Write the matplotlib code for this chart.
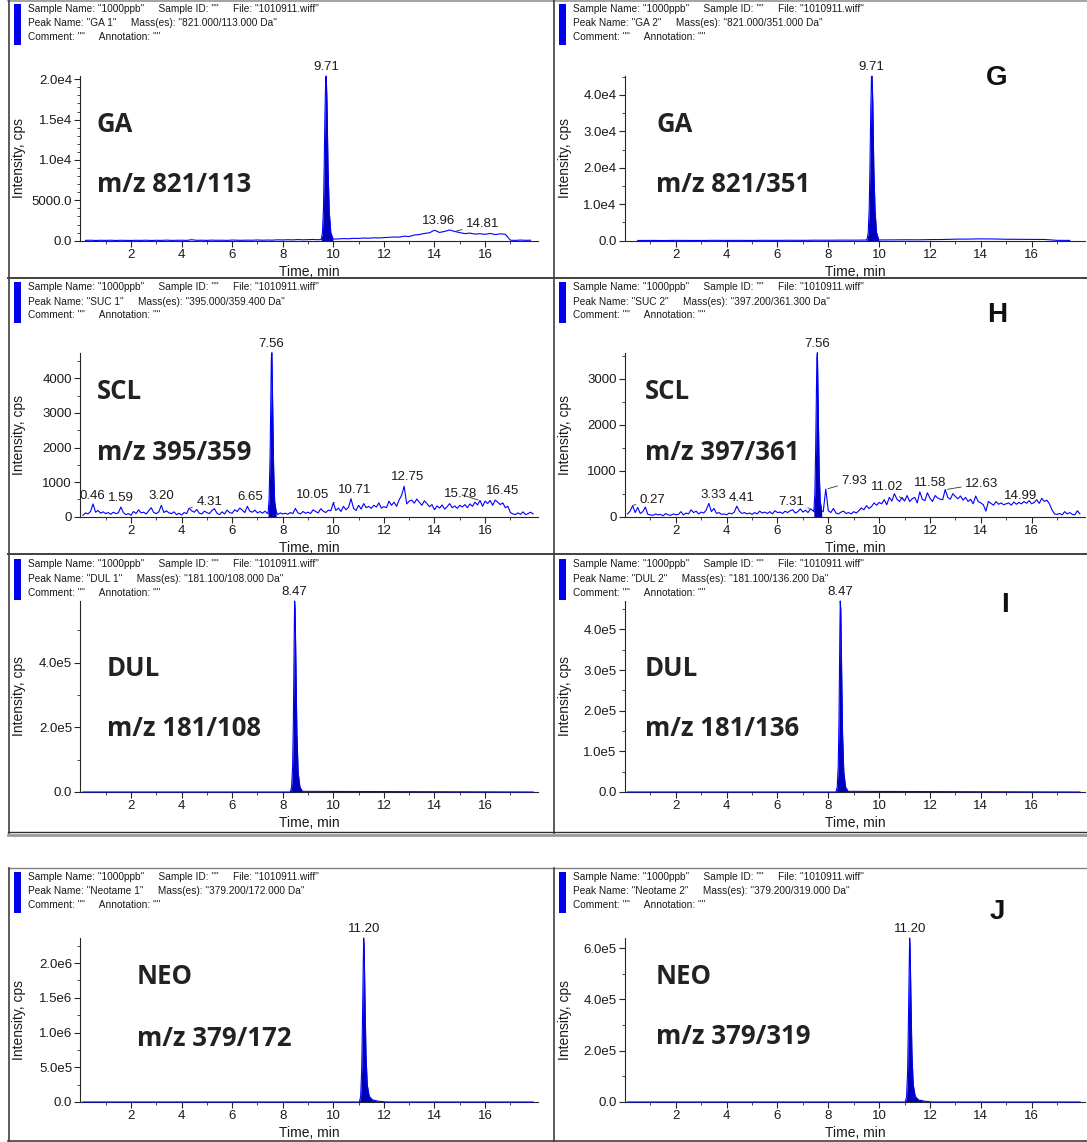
import numpy as np
import matplotlib
matplotlib.use("Agg")
import matplotlib.pyplot as plt
from matplotlib.lines import Line2D
from matplotlib.patches import Rectangle
from matplotlib.ticker import FixedLocator, AutoMinorLocator

plt.rcParams['font.family'] = ['Liberation Sans', 'DejaVu Sans']

# ---------------- data ----------------
PEAK_NAMES = ["GA 1", "GA 2", "SUC 1", "SUC 2", "DUL 1", "DUL 2", "Neotame 1", "Neotame 2"]
MASSES = ["821.000/113.000", "821.000/351.000", "395.000/359.400", "397.200/361.300",
          "181.100/108.000", "181.100/136.200", "379.200/172.000", "379.200/319.000"]
COMPOUNDS = ["GA", "GA", "SCL", "SCL", "DUL", "DUL", "NEO", "NEO"]
TRANSITIONS = ["m/z 821/113", "m/z 821/351", "m/z 395/359", "m/z 397/361",
               "m/z 181/108", "m/z 181/136", "m/z 379/172", "m/z 379/319"]
LETTERS = ["G", "H", "I", "J"]

X_TICKS = [2, 4, 6, 8, 10, 12, 14, 16]
X_MINOR = [1, 3, 5, 7, 9, 11, 13, 15, 17]

# baseline sampling grids (min)
GRID_01 = np.round(np.arange(0.1, 17.95, 0.1), 2)
GRID_02 = np.round(np.arange(0.2, 17.85, 0.2), 2)
GRID_05 = np.round(np.arange(0.5, 17.55, 0.5), 2)
FLAT_T = [0.1, 17.9]
FLAT_V = [0, 0]

ga1_base = [40, 60, 30, 50, 40, 60, 30, 50, 40, 30,
            50, 40, 60, 30, 50, 40, 70, 40, 50, 60,
            40, 120, 50, 60, 40, 70, 50, 60, 40, 80,
            60, 50, 70, 60, 90, 60, 80, 70, 110, 90,
            120, 100, 140, 110, 130, 150, 120, 150, 180, 200,
            220, 260, 240, 300, 280, 330, 310, 360, 340, 380,
            420, 460, 440, 560, 520, 700, 760, 900, 980, 1300,
            1020, 1150, 1320, 1150, 1000, 880, 940, 820, 860, 790,
            900, 760, 850, 800, 60, 40, 80, 50, 60]
ga_pk_t = [9.52, 9.57, 9.61, 9.64, 9.67, 9.70, 9.72, 9.75, 9.79, 9.84, 9.90, 9.98]
ga1_pk_v = [150, 1000, 4000, 9500, 16000, 20200, 20400, 17000, 9000, 3500, 1000, 300]

ga2_base = [60, 80, 50, 90, 70, 60, 100, 80, 90, 70, 110, 90, 120, 100, 140, 130,
            160, 150, 180, 200, 220, 250, 240, 300, 330, 420, 450, 500, 470, 400,
            380, 350, 340, 100, 80]
ga2_pk_v = [100, 2200, 9000, 21000, 36000, 45000, 45200, 38000, 20000, 8000, 2200, 300]

scl1_base = [40, 110, 80, 150, 370, 130, 180, 100, 140, 90,
             120, 70, 130, 90, 110, 280, 120, 60, 90, 40,
             150, 90, 200, 110, 130, 80, 170, 260, 120, 90,
             140, 330, 120, 170, 110, 90, 140, 60, 100, 50,
             120, 90, 250, 170, 130, 210, 100, 80, 160, 120,
             90, 180, 230, 100, 60, 140, 80, 190, 120, 100,
             200, 150, 250, 190, 120, 300, 160, 130, 190, 110,
             150, 100, 160, 90, 120, 100, 90, 60, 110, 80,
             100, 70, 120, 90, 240, 110, 80, 150, 100, 130,
             90, 200, 150, 110, 230, 160, 120, 190, 170, 400,
             180, 250, 150, 300, 200, 270, 520, 240, 180, 330,
             220, 380, 260, 300, 240, 330, 280, 400, 250, 290,
             260, 450, 330, 420, 300, 480, 620, 880, 370, 450,
             480, 390, 510, 420, 330, 460, 380, 290, 350, 200,
             310, 250, 340, 220, 290, 380, 260, 310, 240, 330,
             280, 350, 260, 370, 300, 420, 340, 470, 300, 450,
             380, 470, 330, 480, 420, 350, 400, 260, 300, 120,
             80, 60, 110, 70, 140, 60, 90, 130, 80]
scl1_pk_t = [7.42, 7.46, 7.50, 7.53, 7.55, 7.57, 7.60, 7.64, 7.68, 7.74]
scl1_pk_v = [100, 500, 1800, 3500, 4600, 4743, 3300, 1400, 450, 150]

scl2_base = [60, 120, 240, 90, 200, 70, 110, 210, 50, 40,
             30, 60, 40, 50, 20, 70, 40, 30, 60, 40,
             50, 110, 40, 80, 60, 150, 90, 120, 60, 100,
             80, 150, 290, 110, 180, 70, 90, 50, 60, 40,
             80, 60, 100, 230, 120, 70, 90, 60, 80, 50,
             90, 60, 120, 80, 100, 70, 110, 60, 130, 90,
             100, 70, 120, 90, 130, 150, 80, 110, 170, 100,
             140, 90, 170, 130, 110, 90, 80, 110, 600, 130,
             90, 180, 80, 60, 100, 120, 70, 90, 60, 110,
             80, 130, 190, 150, 240, 180, 220, 300, 250, 310,
             280, 370, 260, 420, 340, 500, 380, 330, 420, 340,
             460, 330, 390, 420, 300, 540, 380, 350, 520, 400,
             330, 460, 410, 380, 370, 590, 420, 380, 500, 440,
             390, 450, 360, 420, 330, 380, 280, 450, 330, 300,
             260, 120, 330, 290, 250, 330, 270, 300, 260, 280,
             300, 250, 320, 270, 310, 280, 330, 290, 350, 280,
             310, 370, 290, 400, 330, 360, 280, 150, 60, 50,
             70, 40, 110, 60, 90, 50, 40, 130, 60]
scl2_pk_t = [7.43, 7.47, 7.50, 7.53, 7.55, 7.57, 7.60, 7.64, 7.68, 7.74]
scl2_pk_v = [110, 500, 1400, 2600, 3450, 3565, 2500, 1000, 350, 120]

dul_pk_t = [8.30, 8.35, 8.39, 8.42, 8.45, 8.47, 8.49, 8.52, 8.56, 8.61, 8.68, 8.78]
dul1_pk_v = [0, 15000, 80000, 220000, 460000, 590000, 560000, 400000, 180000, 60000, 15000, 2000]
dul2_pk_v = [0, 12000, 64000, 176000, 368000, 470000, 448000, 320000, 144000, 48000, 12000, 1600]

neo_pk_t = [11.03, 11.08, 11.12, 11.15, 11.18, 11.20, 11.22, 11.25, 11.29, 11.34, 11.42,
            11.55, 11.80, 12.10]
neo1_pk_v = [0, 80000, 450000, 1100000, 1900000, 2360000, 2200000, 1500000, 700000, 250000,
             80000, 30000, 10000, 0]
neo2_pk_v = [0, 22000, 120000, 300000, 510000, 639000, 595000, 405000, 190000, 68000,
             22000, 8000, 3000, 0]

# y ticks and labels
Y_TICKS = [
    [0, 5000, 10000, 15000, 20000],
    [0, 10000, 20000, 30000, 40000],
    [0, 1000, 2000, 3000, 4000],
    [0, 1000, 2000, 3000],
    [0, 200000, 400000],
    [0, 100000, 200000, 300000, 400000],
    [0, 500000, 1000000, 1500000, 2000000],
    [0, 200000, 400000, 600000],
]
Y_LABELS = [
    ["0.0", "5000.0", "1.0e4", "1.5e4", "2.0e4"],
    ["0.0", "1.0e4", "2.0e4", "3.0e4", "4.0e4"],
    ["0", "1000", "2000", "3000", "4000"],
    ["0", "1000", "2000", "3000"],
    ["0.0", "2.0e5", "4.0e5"],
    ["0.0", "1.0e5", "2.0e5", "3.0e5", "4.0e5"],
    ["0.0", "5.0e5", "1.0e6", "1.5e6", "2.0e6"],
    ["0.0", "2.0e5", "4.0e5", "6.0e5"],
]

# peak labels (retention times)
PEAK_LABELS = [
    ["9.71", "13.96", "14.81"],
    ["9.71"],
    ["0.46", "1.59", "3.20", "4.31", "6.65", "7.56", "10.05", "10.71", "12.75", "15.78", "16.45"],
    ["0.27", "3.33", "4.41", "7.31", "7.56", "7.93", "11.02", "11.58", "12.63", "14.99"],
    ["8.47"],
    ["8.47"],
    ["11.20"],
    ["11.20"],
]

BASES = [(GRID_02, ga1_base), (GRID_05, ga2_base), (GRID_01, scl1_base), (GRID_01, scl2_base),
         (FLAT_T, FLAT_V), (FLAT_T, FLAT_V), (FLAT_T, FLAT_V), (FLAT_T, FLAT_V)]
PEAKS = [(ga_pk_t, ga1_pk_v), (ga_pk_t, ga2_pk_v), (scl1_pk_t, scl1_pk_v), (scl2_pk_t, scl2_pk_v),
         (dul_pk_t, dul1_pk_v), (dul_pk_t, dul2_pk_v), (neo_pk_t, neo1_pk_v), (neo_pk_t, neo2_pk_v)]

# ---------------- layout / style ----------------
W, H = 1087, 1142
fig = plt.figure(figsize=(W / 100, H / 100), dpi=100)

COL_X = [(80.4, 538.2), (625.0, 1085.0)]
ROW_Y = [(76.0, 240.7), (352.7, 516.7), (601.0, 792.0), (938.0, 1102.0)]
PANEL_LEFT = [8, 553]
PANEL_TOP = [0, 278, 555, 868]
MINOR_DIV = [5, 2, 2, 2, 2, 2, 2, 2]

# label offsets in pixels (dx, dy, leader)
LABEL_STYLE = [
    [(0, 9, False), (5, 9, False), (28, 7, True)],
    [(0, 9, False)],
    [(0, 8, False), (0, 9, False), (0, 9, False), (20, 6, True), (2, 9, False), (0, 9, False),
     (-22, 8, True), (3, 9, False), (5, 9, False), (-19, 6, True), (6, 9, False)],
    [(21, 6, True), (4, 8, False), (5, 8, False), (-20, 7, True), (0, 9, False), (28, 8, True),
     (-18, 14, True), (11, 9, False), (36, 6, True), (15, 8, False)],
    [(0, 9, False)], [(0, 9, False)], [(0, 9, False)], [(0, 9, False)],
]
BIG_POS = [((97, 125), (97, 185)), ((656, 125), (656, 185)),
           ((97, 392), (97, 452)), ((645, 392), (645, 452)),
           ((107, 668), (107, 729)), ((645, 668), (645, 729)),
           ((137, 977), (137, 1039)), ((656, 977), (656, 1037))]
LETTER_POS = [(997, 78), (997, 315), (1005, 605), (997, 912)]

LINE_C = "#0000FF"
FILL_C = "#0000B8"
AX_C = "#262626"


def fx(x):
    return x / W


def fy(y):
    return 1 - y / H


def hline(y, x0, x1, color, lw):
    fig.add_artist(Line2D([fx(x0), fx(x1)], [fy(y), fy(y)], transform=fig.transFigure,
                          color=color, lw=lw))


def vline(x, y0, y1, color, lw):
    fig.add_artist(Line2D([fx(x), fx(x)], [fy(y0), fy(y1)], transform=fig.transFigure,
                          color=color, lw=lw))


# frames
hline(1, 8, 1087, "#8a8a8a", 1.1)
vline(8.5, 0, 833, "#404040", 1.2)
vline(553.5, 0, 833, "#404040", 1.2)
hline(277.5, 8, 1087, "#404040", 1.4)
hline(554.5, 8, 1087, "#404040", 1.4)
hline(832, 8, 1087, "#303030", 1.0)
hline(835, 8, 1087, "#9a9a9a", 2.0)
hline(868, 8, 1087, "#808080", 1.0)
vline(8.5, 868, 1141, "#404040", 1.2)
vline(553.5, 868, 1141, "#404040", 1.2)
hline(1140.5, 8, 1087, "#404040", 1.2)


def merged(bt, bv, pt, pv):
    bt = np.asarray(bt, float)
    bv = np.asarray(bv, float)
    pt = np.asarray(pt, float)
    pv = np.asarray(pv, float)
    keep = (bt < pt[0] - 1e-6) | (bt > pt[-1] + 1e-6)
    t = np.concatenate([bt[keep], pt])
    v = np.concatenate([bv[keep], pv])
    o = np.argsort(t)
    return t[o], v[o]


for i in range(8):
    row, col = divmod(i, 2)
    x0, x1 = COL_X[col]
    ytop, ybot = ROW_Y[row]
    ax = fig.add_axes([fx(x0), fy(ybot), (x1 - x0) / W, (ybot - ytop) / H])

    bt, bv = BASES[i]
    pt, pv = PEAKS[i]
    t, v = merged(bt, bv, pt, pv)
    ax.fill_between(pt, pv, 0, color=FILL_C, lw=0, zorder=2)
    ax.plot(t, v, color=LINE_C, lw=0.8, zorder=3, clip_on=False)

    ax.set_xlim(0.0, 18.1)
    ax.set_ylim(0, v.max())

    for s in ["top", "right"]:
        ax.spines[s].set_visible(False)
    for s in ["left", "bottom"]:
        ax.spines[s].set_color(AX_C)
        ax.spines[s].set_linewidth(0.8)

    ax.xaxis.set_major_locator(FixedLocator(X_TICKS))
    ax.xaxis.set_minor_locator(FixedLocator(X_MINOR))
    ax.set_xticklabels([str(x) for x in X_TICKS])
    ax.yaxis.set_major_locator(FixedLocator(Y_TICKS[i]))
    ax.set_yticklabels(Y_LABELS[i])
    ax.yaxis.set_minor_locator(AutoMinorLocator(MINOR_DIV[i]))
    ax.tick_params(axis="both", which="major", labelsize=9.5, length=4, width=0.8,
                   color=AX_C, labelcolor="#1a1a1a", pad=2)
    ax.tick_params(axis="both", which="minor", length=2, width=0.6, color=AX_C)

    hpx = ybot - ytop
    wpx = x1 - x0
    ax.set_xlabel("Time, min", fontsize=10, color="#1a1a1a")
    ax.xaxis.set_label_coords(0.5, -(271 - 240.7 - 6.5) / hpx)
    ax.set_ylabel("Intensity, cps", fontsize=10, color="#1a1a1a")
    ax.yaxis.set_label_coords(-(x0 - (19 + (col * 547)) - 6.5) / wpx, 0.5)

    # peak labels
    for txt, (dx, dy, lead) in zip(PEAK_LABELS[i], LABEL_STYLE[i]):
        lt = float(txt)
        sel = np.abs(t - lt) <= 0.061
        yv = v[sel].max() if sel.any() else np.interp(lt, t, v)
        ax.annotate(txt, xy=(lt, yv), xytext=(dx, dy), textcoords="offset pixels",
                    ha="center", va="center", fontsize=9.5, color="#1a1a1a",
                    annotation_clip=False,
                    arrowprops=dict(arrowstyle="-", lw=0.6, color="#333333",
                                    shrinkA=1, shrinkB=1) if lead else None)

    # header
    left = PANEL_LEFT[col]
    top = PANEL_TOP[row]
    fig.add_artist(Rectangle((fx(left + 6), fy(top + 45)), 7 / W, 41 / H,
                             transform=fig.transFigure, color="#0000EE", lw=0))
    hdr = ['Sample Name: "1000ppb"     Sample ID: ""     File: "1010911.wiff"',
           'Peak Name: "%s"     Mass(es): "%s Da"' % (PEAK_NAMES[i], MASSES[i]),
           'Comment: ""     Annotation: ""']
    for k, line in enumerate(hdr):
        fig.text(fx(left + 20), fy(top + 9.5 + 14 * k), line, fontsize=7.3,
                 ha="left", va="center", color="#1a1a1a")

    # compound labels
    (cx, cy), (mx, my) = BIG_POS[i]
    fig.text(fx(cx), fy(cy), COMPOUNDS[i], fontsize=18.5, fontweight="bold",
             family=["Open Sans", "DejaVu Sans"], ha="left", va="center", color="#222222")
    fig.text(fx(mx), fy(my), TRANSITIONS[i], fontsize=18.5, fontweight="bold",
             family=["Open Sans", "DejaVu Sans"], ha="left", va="center", color="#222222")

for letter, (lx, ly) in zip(LETTERS, LETTER_POS):
    fig.text(fx(lx), fy(ly), letter, fontsize=20, fontweight="bold", ha="center",
             va="center", color="#111111")

fig.savefig("out.png", dpi=100)
